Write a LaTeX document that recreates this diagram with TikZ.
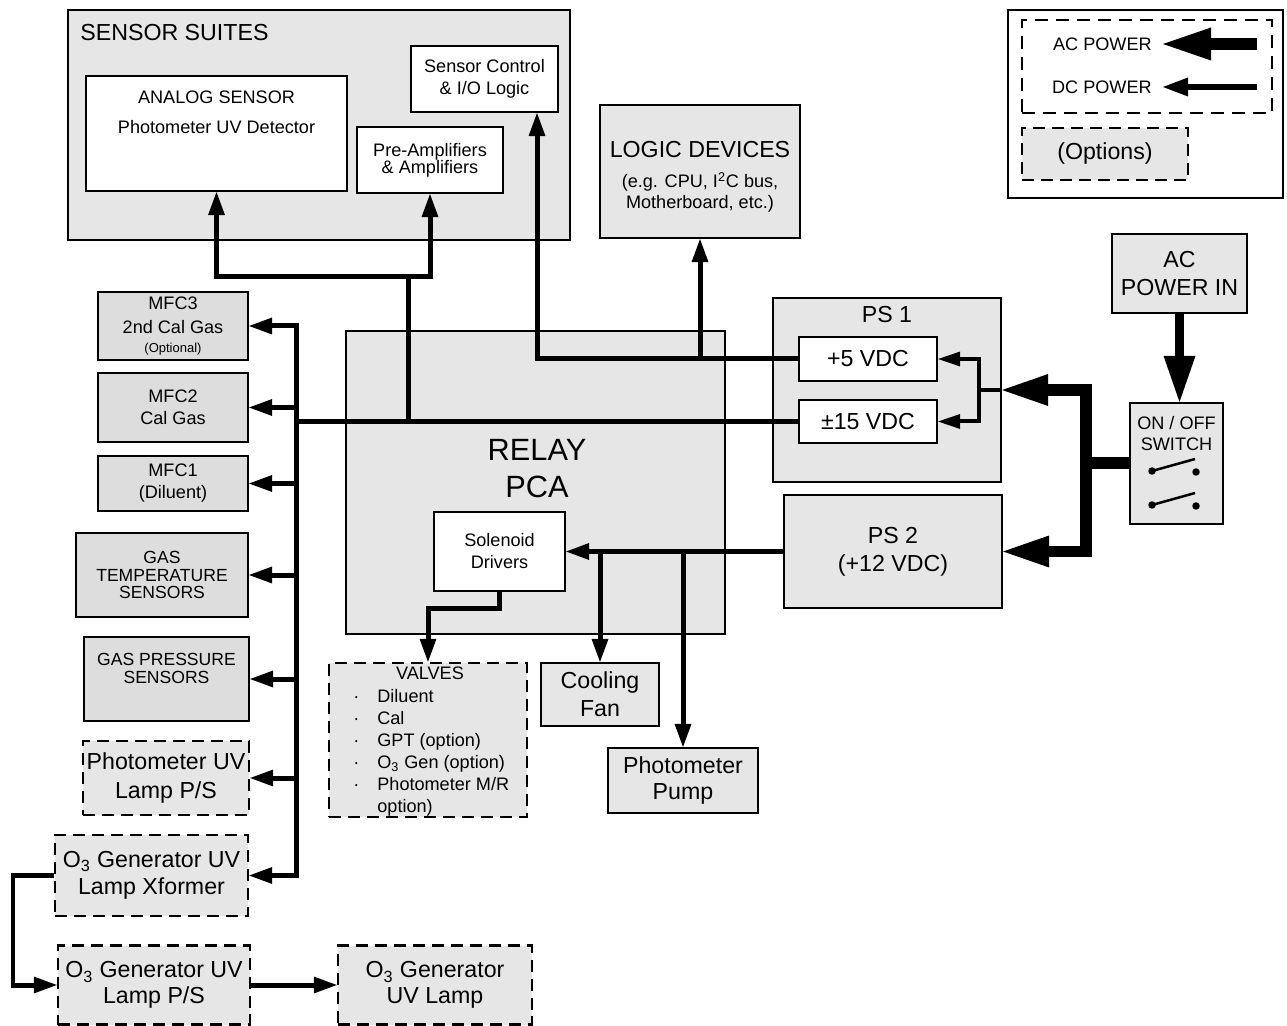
\documentclass[tikz,border=0pt]{standalone}
\usepackage{fontspec}
\setmainfont{Liberation Sans}
\usepackage{tikz}
\usetikzlibrary{positioning, arrows.meta, calc}
\usepackage{xcolor}
\definecolor{panel}{HTML}{E6E6E6}
\definecolor{sensfill}{HTML}{DDDDDD}
\newcommand{\tightlines}{\lineskiplimit-20pt\relax}

\tikzset{
  sigtip/.tip={Triangle[length=0.46cm, width=0.34cm, line width=0pt]},
  dctip/.tip={Triangle[length=0.44cm, width=0.3cm, line width=0pt]},
  actip/.tip={Triangle[length=0.92cm, width=0.64cm, line width=0pt]},
  blk/.style={draw, line width=0.045cm, fill=panel, inner sep=0pt, align=center},
  wblk/.style={blk, fill=white},
  sblk/.style={blk, fill=sensfill},
  optblk/.style={blk, line width=0.05cm, dash pattern=on 0.24cm off 0.14cm},
  lbl/.style={inner sep=0pt, align=center},
  smalltext/.style={font=\fontsize{10.3}{#1}\selectfont},
  smalltext/.default=12.5pt,
  bigtext/.style={font=\fontsize{13.2}{#1}\selectfont},
  bigtext/.default=16pt,
  sig/.style={line width=0.1cm, -sigtip},
  dcl/.style={line width=0.08cm, -dctip},
  acp/.style={line width=0.24cm, -actip},
}

\begin{document}
\begin{tikzpicture}[x=0.02cm, y=-0.02cm, line join=miter]
\useasboundingbox (0,0) rectangle (1287,1026);

% sensor suites
\node[blk, minimum width=10.04cm, minimum height=4.6cm] (suites) at (319,125) {};
\node[lbl, bigtext, anchor=west] (suitestitle) at (80,33) {SENSOR SUITES};
\node[wblk, minimum width=5.22cm, minimum height=2.3cm] (analog) at (216.5,133.5) {};
\node[lbl, smalltext=17pt] (analogtxt) at (216.5,112) {ANALOG SENSOR\\Photometer UV Detector};
\node[wblk, font=\fontsize{10.3}{9.8}\selectfont\tightlines, minimum width=2.92cm, minimum height=1.32cm] (preamp) at (430,160) {Pre-Amplifiers\\\& Amplifiers};
\node[wblk, smalltext, minimum width=2.94cm, minimum height=1.32cm] (sctrl) at (484.5,79) {Sensor Control\\\& I/O Logic};

% logic devices
\node[blk, minimum width=4cm, minimum height=2.66cm] (logic) at (700,171.5) {};
\node[lbl, bigtext] (logictitle) at (700,150) {LOGIC DEVICES};
\node[lbl, smalltext=12pt] (logicnote) at (700,192.5) {(e.g. CPU, I\textsuperscript{2}C bus,\\Motherboard, etc.)};

% legend
\node[draw, line width=0.055cm, fill=white, minimum width=5.5cm, minimum height=3.76cm] (legend) at (1145.5,104) {};
\node[draw, line width=0.035cm, dash pattern=on 0.26cm off 0.16cm, minimum width=5cm, minimum height=1.86cm] (legpow) at (1147,66.5) {};
\node[lbl, smalltext, anchor=east, inner xsep=0.22cm] (legac) at (1163,44) {AC POWER};
\node[lbl, smalltext, anchor=east, inner xsep=0.22cm] (legdc) at (1163,87) {DC POWER};
\coordinate (legactail) at (1257,44);
\coordinate (legdctail) at (1257,87);
\draw[line width=0.24cm, -{Triangle[length=0.96cm, width=0.66cm, line width=0pt]}] (legactail) -- (legac.east);
\draw[line width=0.12cm, -{Triangle[length=0.5cm, width=0.38cm, line width=0pt]}] (legdctail) -- (legdc.east);
\node[optblk, bigtext, minimum width=3.32cm, minimum height=1.04cm] (legopt) at (1105,154) {(Options)};

% relay board
\node[blk, minimum width=7.58cm, minimum height=6.06cm] (relay) at (535.5,482.5) {};
\node[lbl, font=\fontsize{17.5}{21}\selectfont] (relaytxt) at (537,468.5) {RELAY\\PCA};
\node[wblk, smalltext, minimum width=2.62cm, minimum height=1.58cm] (sol) at (499.5,551.5) {Solenoid\\Drivers};
\node[blk, bigtext=15.9pt, minimum width=2.36cm, minimum height=1.26cm] (fan) at (600,694.5) {Cooling\\Fan};
\node[blk, bigtext=15pt, minimum width=3cm, minimum height=1.3cm] (pump) at (683,780.5) {Photometer\\Pump};
\node[optblk, minimum width=3.96cm, minimum height=3.08cm] (valves) at (428,740) {};
\node[lbl, smalltext] (valvestitle) at (430,673) {VALVES};
\node[lbl, smalltext, anchor=north west] (valvelist) at (353,687) {\begin{tabular}{@{}l@{\hspace{0.36cm}}l@{}}
· & Diluent\\
· & Cal\\
· & GPT (option)\\
· & O\textsubscript{3} Gen (option)\\
· & Photometer M/R\\
  & option)
\end{tabular}};

% power supplies
\node[blk, minimum width=4.56cm, minimum height=3.68cm] (ps1) at (887,390) {};
\node[lbl, bigtext] (ps1title) at (887,315) {PS 1};
\node[wblk, bigtext, minimum width=2.76cm, minimum height=0.88cm] (p5) at (868,359) {+5 VDC};
\node[wblk, bigtext, minimum width=2.76cm, minimum height=0.86cm] (pm15) at (868,421.5) {±15 VDC};
\node[blk, bigtext=15.9pt, minimum width=4.36cm, minimum height=2.26cm] (ps2) at (893,551.5) {PS 2\\(+12 VDC)};
\node[blk, bigtext=16.4pt, minimum width=2.7cm, minimum height=1.58cm] (acin) at (1179.5,273.5) {AC\\POWER IN};
\node[blk, minimum width=1.86cm, minimum height=2.42cm] (sw) at (1176.5,463.5) {};
\node[lbl, smalltext=12pt] (swtxt) at (1176.5,433.5) {ON / OFF\\SWITCH};
\begin{scope}[shift={(sw.center)}]
  \foreach \dy in {0,34} {
    \fill (-24.5,7.5+\dy) circle (0.075cm) (19.5,8.5+\dy) circle (0.075cm);
    \draw[line width=0.05cm] (-24.5,7.5+\dy) -- (18.5,-4.5+\dy);
  }
\end{scope}

% left column
\node[sblk, smalltext=14pt, minimum width=3cm, minimum height=1.36cm] (mfc3) at (173,326) {MFC3\\2nd Cal Gas\\[-3pt]{\fontsize{7.4}{9}\selectfont (Optional)}};
\node[sblk, smalltext, minimum width=3cm, minimum height=1.38cm] (mfc2) at (173,407.5) {MFC2\\Cal Gas};
\node[sblk, smalltext, minimum width=3cm, minimum height=1.1cm] (mfc1) at (173,483.5) {MFC1\\(Diluent)};
\node[sblk, font=\fontsize{10}{10.2}\selectfont\tightlines, minimum width=3.44cm, minimum height=1.68cm] (gastemp) at (162,575) {GAS\\TEMPERATURE\\SENSORS};
\node[sblk, minimum width=3.3cm, minimum height=1.68cm] (gaspress) at (166.5,679) {};
\node[lbl, font=\fontsize{10}{10.2}\selectfont\tightlines] (gaspresstxt) at (166.5,668) {GAS PRESSURE\\SENSORS};
\node[optblk, bigtext=17pt, minimum width=3.32cm, minimum height=1.48cm] (lampps) at (166,778) {Photometer UV\\Lamp P/S};
\node[optblk, bigtext=15.3pt, minimum width=3.86cm, minimum height=1.62cm] (xformer) at (151.5,875.5) {O\textsubscript{3} Generator UV\\Lamp Xformer};
\node[optblk, bigtext=14.5pt, minimum width=3.84cm, minimum height=1.58cm] (o3ps) at (154,985) {O\textsubscript{3} Generator UV\\Lamp P/S};
\node[optblk, bigtext=14.5pt, minimum width=3.88cm, minimum height=1.58cm] (o3lamp) at (435,985) {O\textsubscript{3} Generator\\UV Lamp};

% DC wiring
\coordinate (bustop) at (296,326);
\coordinate (busbot) at (296,875.5);
\draw[sig, sigtip-sigtip] (mfc3.east) -- (bustop) -- (busbot) -- (xformer.east);
\foreach \n in {mfc2,mfc1,gastemp,gaspress,lampps}
  \draw[sig] (bustop |- \n.east) -- (\n.east);
\draw[sig, -] (pm15.west) -- (pm15.west -| bustop);
\coordinate (jn) at (408,277);
\draw[sig, sigtip-sigtip] (analog.south) |- (jn) -| (preamp.south);
\draw[sig, -] (jn) -- (jn |- pm15.west);
\coordinate (tap5) at (537,359);
\draw[sig] (p5.west) -- (tap5) -- (tap5 |- sctrl.south);
\draw[sig] (logic.south |- tap5) -- (logic.south);
\draw[sig] (ps2.west) -- (sol.east);
\draw[sig] (fan.north |- sol.east) -- (fan.north);
\draw[sig] (pump.north |- sol.east) -- (pump.north);
\draw[sig] (sol.south) -- ++(0,16) -| (valves.north);
\coordinate (loopx) at (13,877);
\draw[sig] (xformer.west) -- (xformer.west -| loopx) |- (o3ps.west);
\draw[sig] (o3ps.east) -- (o3lamp.west);
\coordinate (ps1jn) at (979,390);
\draw[dcl, -] (ps1.east) -- (ps1jn);
\draw[dcl] (ps1jn) |- (p5.east);
\draw[dcl] (ps1jn) |- (pm15.east);

% AC wiring
\coordinate (acjn) at (1086,463.5);
\draw[acp, -] (sw.west) -- (acjn);
\draw[acp] (acjn) |- (ps1.east);
\draw[acp] (acjn) |- (ps2.east);
\draw[line width=0.17cm, -actip] (acin.south) -- (acin.south |- sw.north);
\end{tikzpicture}
\end{document}
